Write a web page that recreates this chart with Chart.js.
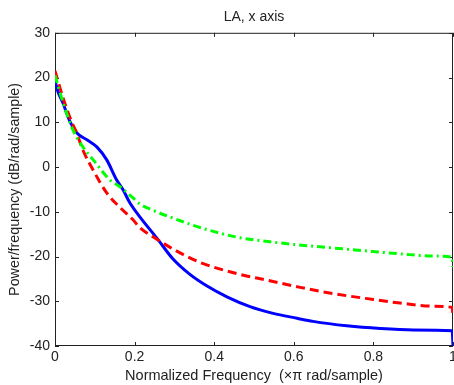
<!DOCTYPE html>
<html>
<head>
<meta charset="utf-8">
<script src="https://cdn.jsdelivr.net/npm/chart.js@4.4.1/dist/chart.umd.min.js"></script>
<style>
  html, body { margin: 0; padding: 0; background: #fff; }
  canvas { display: block; }
</style>
</head>
<body>
<canvas id="psd" width="454" height="385"></canvas>
<script>
// values
const freqBlue = [0, 0.005, 0.02, 0.038, 0.055, 0.08, 0.105, 0.13, 0.155, 0.171, 0.188, 0.2136, 0.256, 0.296, 0.339, 0.382, 0.432, 0.49, 0.548, 0.608, 0.648, 0.733, 0.817, 0.9, 0.998, 1];
const psdBlue = [19.5, 17.5, 14.3, 10.1, 7.6, 6.1, 4.5, 1.6, -2.9, -5.1, -8, -11.2, -15.9, -20.5, -24, -26.6, -29, -31.2, -32.7, -33.8, -34.5, -35.5, -36.1, -36.4, -36.6, -40];

const freqRed = [0, 0.02, 0.04, 0.055, 0.07, 0.096, 0.13, 0.163, 0.196, 0.2136, 0.25, 0.3, 0.364, 0.465, 0.533, 0.616, 0.7, 0.8, 0.867, 0.95, 0.998, 1];
const psdRed = [21.5, 15.5, 10.5, 7.5, 3.8, -0.7, -5.8, -9, -11.8, -13.6, -15.8, -18.5, -21.3, -24, -25.3, -26.9, -28.3, -29.6, -30.4, -31.1, -31.4, -33.5];

const freqGreen = [0, 0.02, 0.045, 0.07, 0.096, 0.138, 0.163, 0.196, 0.2136, 0.239, 0.296, 0.382, 0.465, 0.54, 0.6, 0.7, 0.8, 0.867, 0.95, 0.998, 1];
const psdGreen = [20.5, 14.5, 8.3, 4.5, 1.6, -2.9, -4.4, -6.9, -8.3, -9.4, -11.4, -14, -15.8, -16.7, -17.3, -18.1, -18.9, -19.4, -19.9, -20.2, -22.4];

const xTicks = [0, 0.2, 0.4, 0.6, 0.8, 1];
const yTicks = [-40, -30, -20, -10, 0, 10, 20, 30];

const toPoints = (xs, ys) => xs.map((x, i) => ({ x: x, y: ys[i] }));

const textColor = '#222';
const fontFamily = '"Liberation Sans", Arial, Helvetica, sans-serif';

// MATLAB style box with inward ticks on all four sides
const boxFrame = {
    id: 'boxFrame',
    beforeDatasetsDraw(chart) {
        const ctx = chart.ctx;
        const a = chart.chartArea;
        const xs = chart.scales.x, ys = chart.scales.y;
        const len = 4;
        ctx.save();
        ctx.strokeStyle = '#222';
        ctx.lineWidth = 1;
        ctx.strokeRect(a.left + 0.5, a.top + 0.5, a.right - a.left - 1, a.bottom - a.top - 1);
        ctx.beginPath();
        xTicks.forEach(v => {
            const px = Math.round(xs.getPixelForValue(v)) + 0.5;
            ctx.moveTo(px, a.bottom); ctx.lineTo(px, a.bottom - len);
            ctx.moveTo(px, a.top); ctx.lineTo(px, a.top + len);
        });
        yTicks.forEach(v => {
            const py = Math.round(ys.getPixelForValue(v)) + 0.5;
            ctx.moveTo(a.left, py); ctx.lineTo(a.left + len, py);
            ctx.moveTo(a.right, py); ctx.lineTo(a.right - len, py);
        });
        ctx.stroke();
        ctx.restore();
    }
};

const lineSet = (label, xs, ys, color, dash) => ({
    label: label,
    data: toPoints(xs, ys),
    borderColor: color,
    backgroundColor: color,
    borderWidth: 3,
    borderDash: dash,
    pointRadius: 0,
    fill: false,
    cubicInterpolationMode: 'monotone'
});

new Chart(document.getElementById('psd'), {
    type: 'line',
    data: {
        datasets: [
            lineSet('green', freqGreen, psdGreen, 'rgb(0,255,0)', [8, 4, 2, 4]),
            lineSet('red', freqRed, psdRed, 'rgb(255,0,0)', [9, 5]),
            lineSet('blue', freqBlue, psdBlue, 'rgb(0,0,255)', [])
        ]
    },
    options: {
        responsive: false,
        animation: false,
        layout: { padding: { left: 0, right: 1, top: 0, bottom: 0 }, autoPadding: false },
        plugins: {
            legend: { display: false },
            tooltip: { enabled: false },
            title: {
                display: true,
                fullSize: false,
                text: 'LA, x axis',
                color: textColor,
                font: { family: fontFamily, size: 14, weight: 'normal' },
                padding: { top: 9, bottom: 7 }
            }
        },
        scales: {
            x: {
                type: 'linear',
                min: 0,
                max: 1,
                afterFit: s => { s.height = 39; s.paddingLeft = 0; s.paddingRight = 0; },
                afterBuildTicks: s => { s.ticks = xTicks.map(v => ({ value: v })); },
                grid: { display: false, drawTicks: false },
                border: { display: false },
                ticks: {
                    color: textColor,
                    font: { family: fontFamily, size: 14 },
                    padding: 3,
                    maxRotation: 0,
                    callback: v => String(v)
                },
                title: {
                    display: true,
                    text: 'Normalized Frequency  (\u00d7\u03c0 rad/sample)',
                    color: textColor,
                    font: { family: fontFamily, size: 14.5 },
                    padding: { top: 1, bottom: 0 }
                }
            },
            y: {
                min: -40,
                max: 30,
                afterFit: s => { s.width = 55; s.paddingTop = 0; s.paddingBottom = 0; },
                afterBuildTicks: s => { s.ticks = yTicks.map(v => ({ value: v })); },
                grid: { display: false, drawTicks: false },
                border: { display: false },
                ticks: {
                    color: textColor,
                    font: { family: fontFamily, size: 14 },
                    padding: 5
                },
                title: {
                    display: true,
                    text: 'Power/frequency (dB/rad/sample)',
                    color: textColor,
                    font: { family: fontFamily, size: 14.3 },
                    padding: { top: 6, bottom: 0 }
                }
            }
        }
    },
    plugins: [boxFrame]
});
</script>
</body>
</html>
